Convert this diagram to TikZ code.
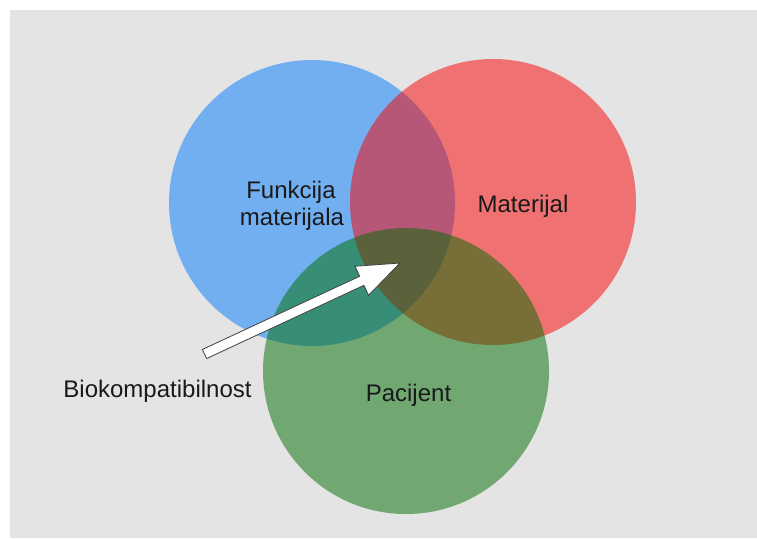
\documentclass[tikz,border=0pt]{standalone}
\usepackage{fontspec}
\setmainfont{Liberation Sans}
\definecolor{bgC}{RGB}{228,228,228}
\definecolor{blueC}{RGB}{0,124,252}
\definecolor{redC}{RGB}{252,0,0}
\definecolor{greenC}{RGB}{0,108,0}
\tikzset{
  setcircle/.style={circle, draw=none, inner sep=0pt, minimum size=286pt, fill opacity=0.5},
  lbl/.style={anchor=base, inner sep=0pt, font=\fontsize{24}{28}\selectfont, text=black!90},
  arrowshape/.style={draw=black!75, line width=0.8pt, fill=white, line join=miter}
}
\begin{document}
\begin{tikzpicture}[x=1pt,y=-1pt]
\useasboundingbox (0,0) rectangle (757,538);
\fill[white] (0,0) rectangle (757,538);
\fill[bgC] (10,10) rectangle (757,538);
\node[setcircle, fill=blueC] (funk) at (312,203) {};
\node[setcircle, fill=redC] (mat) at (493,202) {};
\node[setcircle, fill=greenC] (pac) at (406,371) {};
\node[lbl] (funklbl) at (291,198) {Funkcija};
\node[lbl] (funklbl2) at (292,225) {materijala};
\node[lbl] (matlbl) at (523,212) {Materijal};
\node[lbl] (paclbl) at (408.5,401) {Pacijent};
\node[lbl] (biolbl) at (157.5,397) {Biokompatibilnost};
\coordinate (arrowtail) at (204.5,354);
\coordinate (arrowtip) at (400,263);
\begin{scope}[shift={(arrowtail)}, rotate=24.96]
\draw[arrowshape] (0,-5) -- (173.5,-5) -- (173.5,-16) -- (215.6,0) -- (173.5,16) -- (173.5,5) -- (0,5) -- cycle;
\end{scope}
\end{tikzpicture}
\end{document}
